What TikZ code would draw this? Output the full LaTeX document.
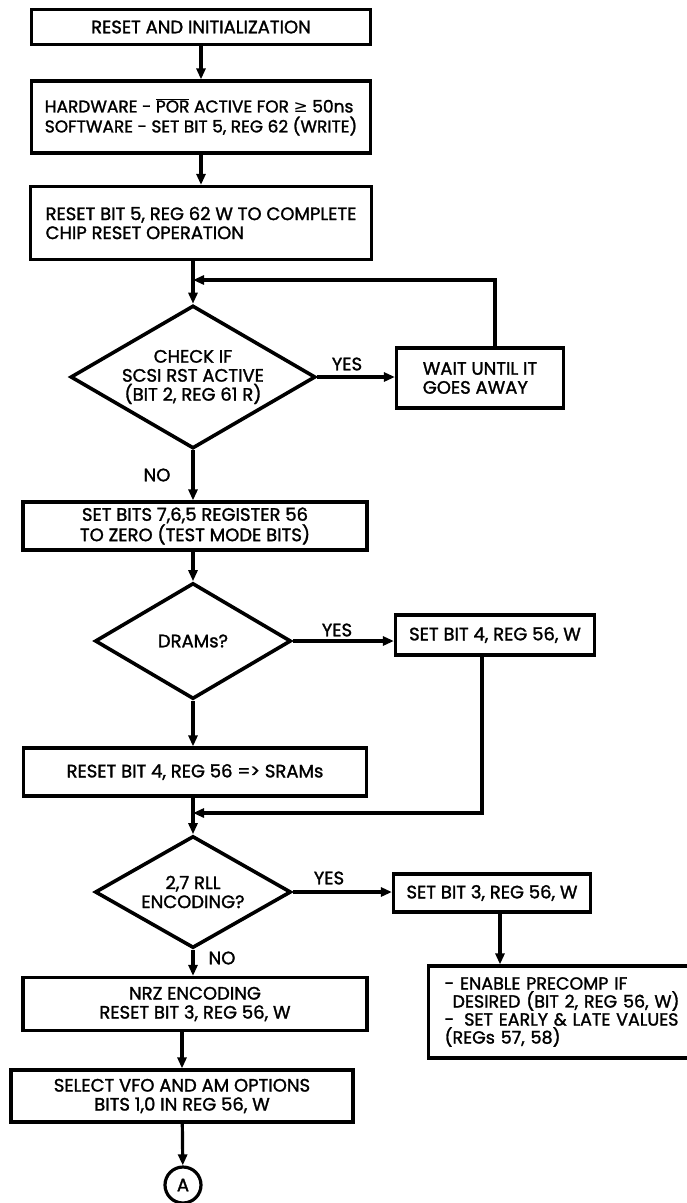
\documentclass[tikz,border=0pt]{standalone}
\usepackage{fontspec}
\setmainfont{Poppins}[FakeBold=1.5]
\newfontfamily\symfnt{DejaVu Sans}
\usetikzlibrary{shapes.geometric,arrows.meta}
\tikzset{
  box/.style={rectangle,draw,line width=3.2pt,inner sep=0pt,align=center},
  dia/.style={diamond,draw,line width=3.6pt,inner sep=0pt,align=center,aspect=1.7},
  lbl/.style={inner sep=0pt},
  arr/.style={-{Triangle[length=11pt,width=9pt]},line width=3.2pt},
  every node/.style={font=\fontsize{18}{19}\selectfont}
}
\begin{document}
\begin{tikzpicture}[x=1pt,y=-1pt]
\useasboundingbox (0,0) rectangle (687,1203);
\node[box, minimum width=339, minimum height=35] (b1) at (201,27) {RESET AND INITIALIZATION};
\node[box, minimum width=339, minimum height=72, align=left, font=\fontsize{17}{20}\selectfont] (b2) at (201,117)
  {HARDWARE - $\overline{\mbox{POR}}$ ACTIVE FOR {\symfnt ≥} 50ns\\SOFTWARE - SET BIT 5, REG 62 (WRITE)};
\node[box, minimum width=341, minimum height=73, align=left] (b3) at (201,223)
  {RESET BIT 5, REG 62 W TO COMPLETE\\CHIP RESET OPERATION};
\coordinate (j1) at (193,280);
\node[dia, minimum width=245, minimum height=143] (d1) at (193,377) {CHECK IF\\SCSI RST ACTIVE\\(BIT 2, REG 61 R)};
\node[box, minimum width=167, minimum height=60, align=left] (w1) at (480,378) {WAIT UNTIL IT\\GOES AWAY};
\node[lbl] (y1) at (347,364) {YES};
\node[lbl] (n1) at (157,475) {NO};
\node[box, minimum width=344, minimum height=48] (b4) at (195,526) {SET BITS 7,6,5 REGISTER 56\\TO ZERO (TEST MODE BITS)};
\node[dia, minimum width=196, minimum height=116] (d2) at (193,641) {DRAMs?};
\node[lbl] (y2) at (337,630) {YES};
\node[box, minimum width=199, minimum height=40] (sb4) at (495,635) {SET BIT 4, REG 56, W};
\node[box, minimum width=343, minimum height=48] (b5) at (195,772) {RESET BIT 4, REG 56 =\kern0pt> SRAMs};
\coordinate (j2) at (193,813);
\node[dia, minimum width=196, minimum height=112] (d3) at (193,892) {2,7 RLL\\ENCODING?};
\node[lbl] (y3) at (329,878) {YES};
\node[lbl] (n3) at (222,958) {NO};
\node[box, minimum width=197, minimum height=38] (sb3) at (492,893) {SET BIT 3, REG 56, W};
\node[box, anchor=west, inner xsep=16pt, text width=290, minimum height=92, align=left, font=\fontsize{17.5}{18}\selectfont] (pc) at (427,1012)
  {- ENABLE PRECOMP IF\\\hspace*{8pt}DESIRED (BIT 2, REG 56, W)\\-\hspace*{10pt}SET EARLY \& LATE VALUES\\(REGs 57, 58)};
\node[box, minimum width=344, minimum height=53] (b6) at (195,1004) {NRZ ENCODING\\RESET BIT 3, REG 56, W};
\node[box, minimum width=342, minimum height=52] (b7) at (182,1096) {SELECT VFO AND AM OPTIONS\\BITS 1,0 IN REG 56, W};
\node[circle, draw, line width=3.2pt, minimum size=36, inner sep=0pt] (cA) at (183,1185) {A};
\draw[arr] (b1) -- (b2);
\draw[arr] (b2) -- (b3);
\draw[arr] (b3.south -| d1.north) -- (d1.north);
\draw[arr] ([xshift=15pt]w1.north) |- (j1);
\draw[arr] (d1.east) -- (d1.east -| w1.west);
\draw[arr] (d1.south) -- (d1.south |- b4.north);
\draw[arr] (b4.south -| d2.north) -- (d2.north);
\draw[arr] (d2.east) -- (d2.east -| sb4.west);
\draw[arr] (d2.south) -- (d2.south |- b5.north);
\draw[arr] ([xshift=-13pt]sb4.south) |- (j2);
\draw[arr] (b5.south -| d3.north) -- (d3.north);
\draw[arr] (d3.east) -- (d3.east -| sb3.west);
\draw[arr] ([xshift=8pt]sb3.south) -- ([xshift=8pt]sb3.south |- pc.north);
\draw[arr] (d3.south) -- (d3.south |- b6.north);
\draw[arr] (b6.south -| b7.north) -- (b7.north);
\draw[arr] (b7) -- (cA);
\end{tikzpicture}
\end{document}
